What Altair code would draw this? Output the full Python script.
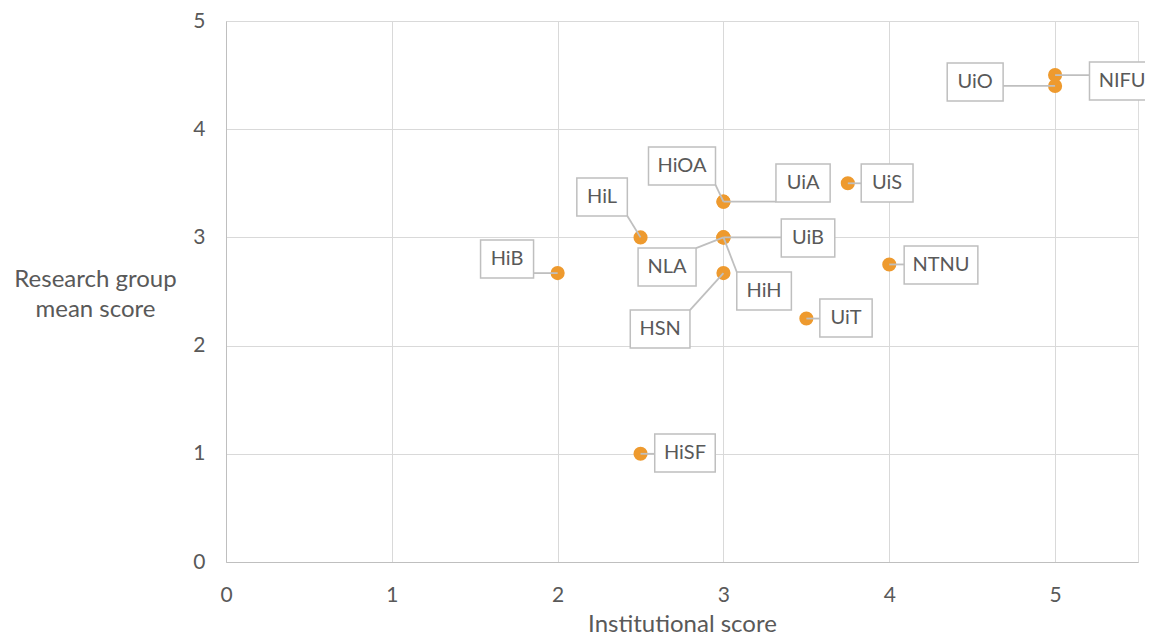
import altair as alt
import pandas as pd

# ---- data ----
names = ["HiB", "HiL", "HiSF", "HiOA", "UiA", "UiB", "NLA", "HiH", "HSN", "UiS", "UiT", "NTNU", "UiO", "NIFU"]
institutional = [2, 2.5, 2.5, 3, 3, 3, 3, 3, 3, 3.75, 3.5, 4, 5, 5]
research = [2.67, 3, 1, 3.33, 3.33, 3, 3, 3, 2.67, 3.5, 2.25, 2.75, 4.4, 4.5]

# label box centres (data units)
label_x = [1.695, 2.268, 2.768, 2.750, 3.480, 3.510, 2.660, 3.245, 2.618, 3.987, 3.739, 4.312, 4.518, 5.404]
label_y = [2.80, 3.373, 1.007, 3.660, 3.503, 2.994, 2.726, 2.505, 2.153, 3.503, 2.255, 2.745, 4.436, 4.445]

x_ticks = [0, 1, 2, 3, 4, 5]
y_ticks = [0, 1, 2, 3, 4, 5]

# ---- layout ----
W, H = 912, 541
X_MAX, Y_MAX = 5.5, 5.0
FONT = "Lato"
TEXT = "#595959"
GRID = "#D9D9D9"
BOX = "#BFBFBF"
ORANGE = "#EE9A2E"

char_w = {"H": 12.5, "i": 4.6, "O": 13.3, "A": 11.6, "U": 13.0, "S": 9.2, "L": 8.4,
          "B": 10.9, "N": 13.0, "T": 9.7, "F": 9.2, "I": 5.0}
px_x = X_MAX / W
px_y = Y_MAX / H

rows = []
for n, x, y, lx, ly in zip(names, institutional, research, label_x, label_y):
    w = sum(char_w.get(c, 10) for c in n) + 25
    hw = w / 2 * px_x
    hh = 19 * px_y
    x0, x1, y0, y1 = lx - hw, lx + hw, ly - hh, ly + hh
    ex = min(max(x, x0), x1)
    ey = min(max(y, y0), y1)
    rows.append(dict(name=n, x=x, y=y, lx=lx, ly=ly, x0=x0, x1=x1, y0=y0, y1=y1, ex=ex, ey=ey))
df = pd.DataFrame(rows)

xscale = alt.Scale(domain=[0, X_MAX], nice=False, zero=True)
yscale = alt.Scale(domain=[0, Y_MAX], nice=False, zero=True)

base = alt.Chart(df)

points = base.mark_circle(size=200, opacity=1, color=ORANGE).encode(
    x=alt.X("x:Q", scale=xscale, axis=alt.Axis(
        values=x_ticks, format="d", title="Institutional score", grid=True, gridColor=GRID,
        domainColor=BOX, ticks=False, labelPadding=22, labelFontSize=21, labelColor=TEXT,
        labelFont=FONT, labelFlush=False, titleFont=FONT, titleFontSize=24, titleColor=TEXT,
        titleFontWeight="normal", titleBaseline="alphabetic", titleY=69, titleX=W / 2)),
    y=alt.Y("y:Q", scale=yscale, axis=alt.Axis(
        values=y_ticks, format="d", title=["Research group", "mean score"], grid=True, gridColor=GRID,
        domainColor=BOX, ticks=False, labelPadding=21, labelFontSize=21, labelColor=TEXT,
        labelFont=FONT, labelFlush=False, titleFont=FONT, titleFontSize=24, titleColor=TEXT,
        titleFontWeight="normal", titleAngle=0, titleAlign="center",
        titleBaseline="alphabetic", titleX=-131, titleY=265, titleLineHeight=30)),
)

leaders = base.mark_rule(color=BOX, strokeWidth=1.8).encode(
    x=alt.X("x:Q", scale=xscale), y=alt.Y("y:Q", scale=yscale),
    x2="ex:Q", y2="ey:Q",
)

boxes = base.mark_rect(fill="white", stroke=BOX, strokeWidth=1.5).encode(
    x=alt.X("x0:Q", scale=xscale), x2="x1:Q",
    y=alt.Y("y0:Q", scale=yscale), y2="y1:Q",
)

labels = base.mark_text(font=FONT, fontSize=20, color=TEXT, align="center", baseline="middle").encode(
    x=alt.X("lx:Q", scale=xscale), y=alt.Y("ly:Q", scale=yscale), text="name:N",
)

chart = alt.layer(points, leaders, boxes, labels).properties(
    width=W, height=H,
    autosize=alt.AutoSizeParams(type="none"),
    padding={"left": 218, "top": 13, "right": 7, "bottom": 74},
).configure_view(stroke=None).configure(background="white")

chart.save("out.html", embed_options={"renderer": "svg", "actions": False})
